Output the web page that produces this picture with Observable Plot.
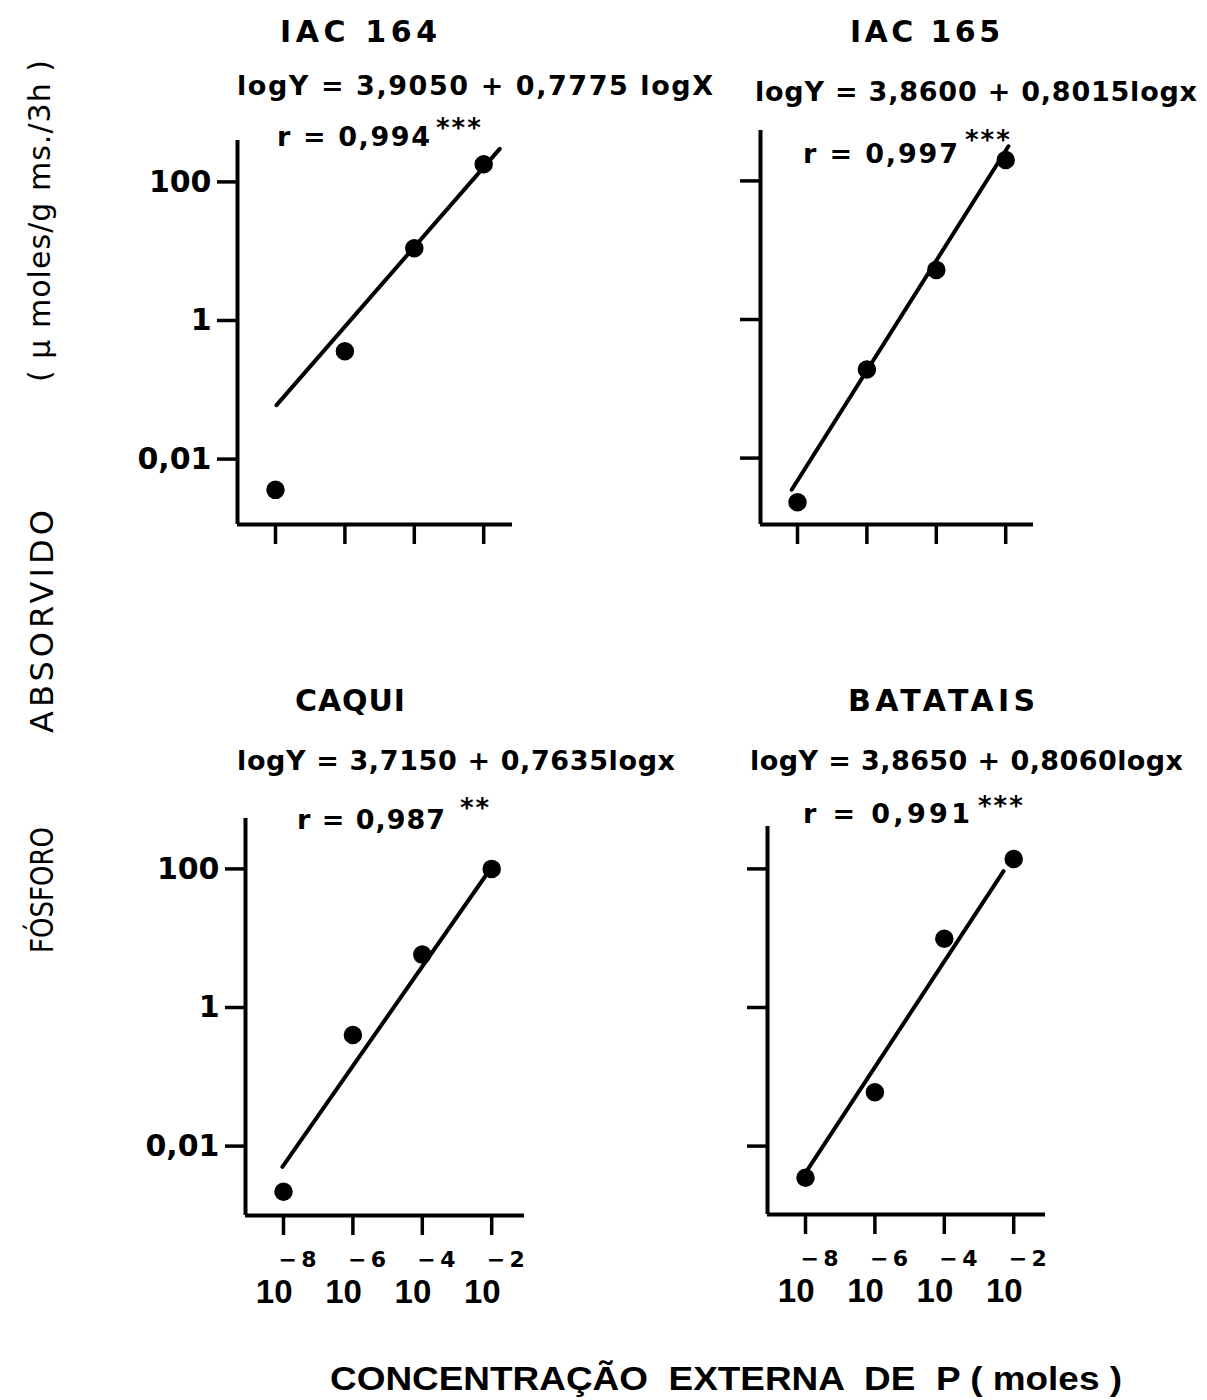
<!DOCTYPE html>
<html>
<head>
<meta charset="utf-8">
<script src="https://cdn.jsdelivr.net/npm/d3@7"></script>
<script src="https://cdn.jsdelivr.net/npm/@observablehq/plot@0.6"></script>
<style>
  html, body { margin: 0; padding: 0; background: #fff; }
  #root { position: relative; width: 1207px; height: 1400px; background: #fff; overflow: hidden; }
  #root svg { overflow: visible; }
</style>
</head>
<body>
<div id="root"></div>
<script>
// ---------- data ----------
const cultivars = ["IAC 164", "IAC 165", "CAQUI", "BATATAIS"];
const equations = [
  "logY = 3,9050 + 0,7775 logX",
  "logY = 3,8600 + 0,8015logx",
  "logY = 3,7150 + 0,7635logx",
  "logY = 3,8650 + 0,8060logx"
];
const rTexts = ["r = 0,994", "r = 0,997", "r = 0,987", "r = 0,991"];
const significance = ["***", "***", "**", "***"];

const concentrations = [1e-8, 1e-6, 1e-4, 1e-2];     // moles (x ticks and x of points)
const xTickExponents = ["−8", "−6", "−4", "−2"];
const yTicks = [0.01, 1, 100];
const yTickLabels = ["0,01", "1", "100"];

// absorbed P (µmoles/g ms./3h) at each concentration
const absorbedIAC164   = [0.0036, 0.36, 11, 180];
const absorbedIAC165   = [0.0023, 0.19, 5.2, 200];
const absorbedCaqui    = [0.0022, 0.40, 5.8, 100];
const absorbedBatatais = [0.0035, 0.060, 9.8, 139];

// drawn regression lines: [concentration, absorbed] at both ends
const fitIAC164   = [[1.07e-8, 0.060], [0.029, 300]];
const fitIAC165   = [[6.8e-9, 0.0035], [0.012, 316]];
const fitCaqui    = [[9.3e-9, 0.0050], [0.0066, 79]];
const fitBatatais = [[1.0e-8, 0.0041], [0.0051, 93]];

const yAxisTitleA = "FÓSFORO";
const yAxisTitleB = "ABSORVIDO";
const yAxisUnits = "( µ moles/g ms./3h )";
const xAxisTitle = "CONCENTRAÇÃO  EXTERNA  DE  P ( moles )";

// ---------- layout (pixels) ----------
const panelValues = [absorbedIAC164, absorbedIAC165, absorbedCaqui, absorbedBatatais];
const panelFits = [fitIAC164, fitIAC165, fitCaqui, fitBatatais];
const frames = [
  {left: 237, top: 140, right: 512, bottom: 524, x8: 275, y1: 320, col: 0, row: 0},
  {left: 760, top: 130, right: 1033, bottom: 524, x8: 797, y1: 319, col: 1, row: 0},
  {left: 245, top: 818, right: 524, bottom: 1215, x8: 283, y1: 1007, col: 0, row: 1},
  {left: 767, top: 826, right: 1045, bottom: 1214, x8: 805, y1: 1007, col: 1, row: 1}
];
const textPos = [
  {tx: 280, tw: 157, ty: 42,  ex: 237, ew: 476, ey: 95,  rx: 277, rw: 153, ry: 146, sx: 436, sy: 137},
  {tx: 850, tw: 150, ty: 42,  ex: 755, ew: 442, ey: 101, rx: 803, rw: 155, ry: 163, sx: 965, sy: 149},
  {tx: 295, tw: 110, ty: 711, ex: 237, ew: 438, ey: 770, rx: 297, rw: 148, ry: 829, sx: 460, sy: 817},
  {tx: 848, tw: 187, ty: 711, ex: 750, ew: 433, ey: 770, rx: 803, rw: 167, ry: 823, sx: 978, sy: 815}
];
const KX = 34.7;  // px per decade (x)
const KY = 69.3;  // px per decade (y)
const FONT = "'DejaVu Sans', sans-serif";
const FONT2 = "'Liberation Sans', Arial, sans-serif";

const root = document.getElementById("root");

frames.forEach((L, p) => {
  const xlo = -8 - (L.x8 - L.left) / KX, xhi = -8 + (L.right - L.x8) / KX;
  const ylo = (L.y1 - L.bottom) / KY, yhi = (L.y1 - L.top) / KY;
  const ML = 110, MR = 12, MT = 10, MB = 100;
  const W = ML + (L.right - L.left) + MR;
  const H = MT + (L.bottom - L.top) + MB;
  const pts = concentrations.map((c, i) => ({c, v: panelValues[p][i]}));
  const fit = panelFits[p].map(([c, v]) => ({c, v}));
  const marks = [
    Plot.ruleX([10 ** xlo], {strokeWidth: 4}),
    Plot.ruleY([10 ** ylo], {strokeWidth: 4}),
    Plot.axisY(yTicks, {
      tickSize: 20, tickPadding: 6, strokeWidth: 3.5, label: null,
      tickFormat: L.col === 0 ? (d) => yTickLabels[yTicks.indexOf(d)] : () => ""
    }),
    Plot.axisX(concentrations, {tickSize: 20, strokeWidth: 3.5, label: null, tickFormat: () => ""}),
    Plot.line(fit, {x: "c", y: "v", strokeWidth: 4}),
    Plot.dot(pts, {x: "c", y: "v", r: 8.5, fill: "black", stroke: "black"})
  ];
  if (L.row === 1) {
    marks.push(
      Plot.text(concentrations, {x: (d) => d, frameAnchor: "bottom", text: () => "10",
        textAnchor: "end", lineAnchor: "bottom", dx: 9, dy: 87, fontSize: 33, fontFamily: FONT2}),
      Plot.text(concentrations, {x: (d) => d, frameAnchor: "bottom",
        text: (d, i) => xTickExponents[i].replace("−", "−\u2009"),
        textAnchor: "start", lineAnchor: "bottom", dx: -5, dy: 51, fontSize: 22})
    );
  }
  const chart = Plot.plot({
    width: W, height: H,
    marginLeft: ML, marginRight: MR, marginTop: MT, marginBottom: MB,
    x: {type: "log", domain: [10 ** xlo, 10 ** xhi], label: null},
    y: {type: "log", domain: [10 ** ylo, 10 ** yhi], label: null},
    style: {fontFamily: FONT, fontWeight: "bold", fontSize: "30px", background: "transparent", color: "black", overflow: "visible"},
    marks
  });
  chart.style.position = "absolute";
  chart.style.left = (L.left - ML) + "px";
  chart.style.top = (L.top - MT) + "px";
  root.appendChild(chart);
});

// ---------- titles and annotations ----------
const svg = d3.create("svg")
  .attr("width", 1207).attr("height", 1400)
  .style("position", "absolute").style("left", "0px").style("top", "0px")
  .style("pointer-events", "none")
  .attr("font-family", FONT).attr("font-weight", "bold").attr("fill", "black");

textPos.forEach((t, p) => {
  svg.append("text").attr("x", t.tx).attr("y", t.ty).attr("font-size", 30)
    .attr("textLength", t.tw).attr("lengthAdjust", "spacing").text(cultivars[p]);
  svg.append("text").attr("x", t.ex).attr("y", t.ey).attr("font-size", 27)
    .attr("textLength", t.ew).attr("lengthAdjust", "spacing").text(equations[p]);
  svg.append("text").attr("x", t.rx).attr("y", t.ry).attr("font-size", 27)
    .attr("textLength", t.rw).attr("lengthAdjust", "spacing").text(rTexts[p]);
  svg.append("text").attr("x", t.sx).attr("y", t.sy).attr("font-size", 26)
    .attr("letter-spacing", "2px").text(significance[p]);
});

svg.append("text").attr("transform", "translate(53,953) rotate(-90)").attr("font-weight", "normal")
  .attr("font-size", 32).attr("textLength", 126).attr("lengthAdjust", "spacingAndGlyphs").text(yAxisTitleA);
svg.append("text").attr("transform", "translate(53,733) rotate(-90)").attr("font-weight", "normal")
  .attr("font-size", 32).attr("textLength", 223).attr("lengthAdjust", "spacing").text(yAxisTitleB);
svg.append("text").attr("transform", "translate(50,382) rotate(-90)").attr("font-weight", "normal")
  .attr("font-size", 30).attr("textLength", 322).attr("lengthAdjust", "spacing").text(yAxisUnits);

svg.append("text").attr("x", 330).attr("y", 1390)
  .attr("font-family", FONT2).attr("font-size", 33)
  .style("white-space", "pre").attr("xml:space", "preserve")
  .attr("textLength", 792).attr("lengthAdjust", "spacingAndGlyphs").text(xAxisTitle);

root.appendChild(svg.node());
</script>
</body>
</html>
